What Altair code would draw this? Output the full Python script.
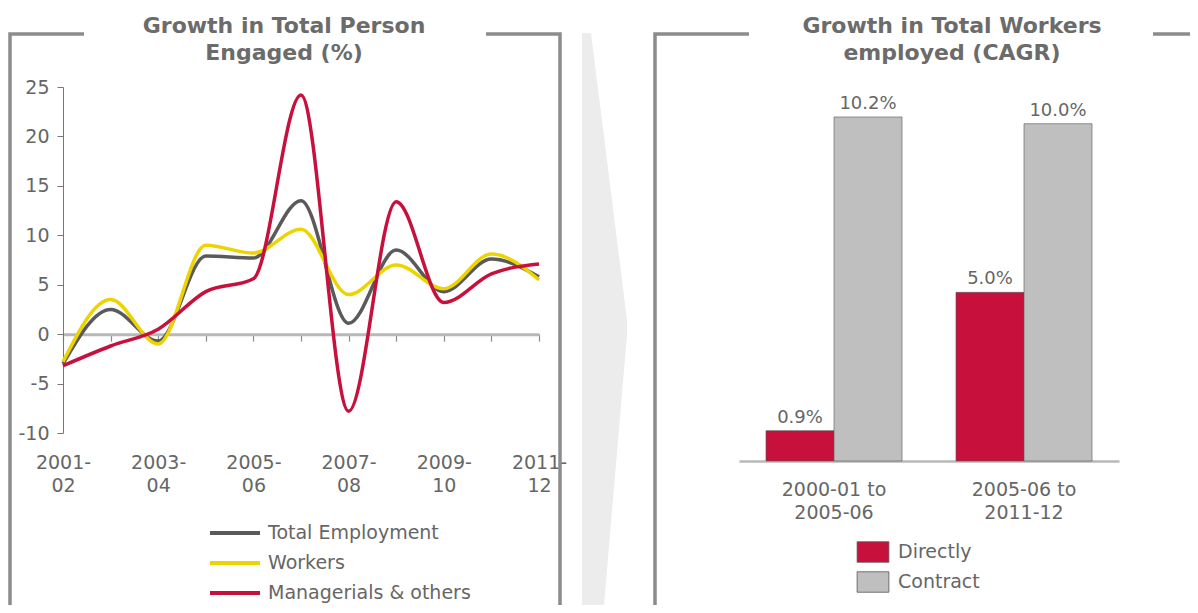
import altair as alt
import pandas as pd

# ---------------- data ----------------
periods = ["2001-02", "2002-03", "2003-04", "2004-05", "2005-06", "2006-07",
           "2007-08", "2008-09", "2009-10", "2010-11", "2011-12"]
shown_period_labels = ["2001-02", "2003-04", "2005-06", "2007-08", "2009-10", "2011-12"]
total_employment = [-3.0, 2.5, -0.7, 7.9, 7.7, 13.5, 1.1, 8.5, 4.3, 7.6, 5.8]
workers = [-2.8, 3.5, -1.0, 9.0, 8.2, 10.6, 4.0, 7.0, 4.6, 8.1, 5.5]
managerials = [-3.2, -1.2, 0.5, 4.3, 5.6, 24.2, -7.8, 13.4, 3.2, 6.1, 7.1]
line_series = ["Total Employment", "Workers", "Managerials & others"]
line_colors = ["#5a5a5a", "#EDD400", "#C8103C"]
y_ticks = [-10, -5, 0, 5, 10, 15, 20, 25]

bar_periods = ["2000-01 to 2005-06", "2005-06 to 2011-12"]
bar_types = ["Directly", "Contract"]
directly = [0.9, 5.0]
contract = [10.2, 10.0]
bar_colors = ["#C8103C", "#BFBFBF"]

left_title = ["Growth in Total Person", "Engaged (%)"]
right_title = ["Growth in Total Workers", "employed (CAGR)"]

# ---------------- tables ----------------
line_rows = []
for name, vals in zip(line_series, [total_employment, workers, managerials]):
    for p, v in zip(periods, vals):
        line_rows.append({"period": p, "series": name, "value": v})
line_df = pd.DataFrame(line_rows)

bar_rows = []
for t, vals in zip(bar_types, [directly, contract]):
    for p, v in zip(bar_periods, vals):
        bar_rows.append({"period": p, "type": t, "value": v, "label": f"{v:.1f}%"})
bar_df = pd.DataFrame(bar_rows)

legend_line_df = pd.DataFrame({"series": line_series})
legend_bar_df = pd.DataFrame({"type": bar_types})
one = pd.DataFrame({"a": [0]})

# ---------------- layout ----------------
W, H = 1182, 597
FONT = "DejaVu Sans"
TXT = "#666666"
line_x_range = [55, 531]
line_y_dom = [-10, 25]
line_y_range = [425, 79]
zero_px = line_y_range[0] + (0 - line_y_dom[0]) / (line_y_dom[1] - line_y_dom[0]) * (line_y_range[1] - line_y_range[0])
bar_base_px = 453
bar_top_px = 82
bar_range = [731, 1111]
bar_pad_inner = 0.284
bar_pad_outer = 0.142

# ---------------- decorations ----------------
frames = alt.Chart(one).mark_point(
    shape=("M2,597L2,26L76,26M478,26L552,26L552,597"
           "M647,597L647,26L741,26M1145,26L1190,26"),
    size=4, filled=False, stroke="#8c8c8c", strokeWidth=3.5, opacity=1,
).encode(x=alt.value(0), y=alt.value(0))

arrow = alt.Chart(one).mark_point(
    shape="M574,25L583,25L619,312L619,327L596,597L574,597Z",
    size=4, filled=True, fill="#ececec", strokeWidth=0, opacity=1,
).encode(x=alt.value(0), y=alt.value(0))


def title_line(text, x, y):
    return alt.Chart(one).mark_text(
        font=FONT, fontSize=22, fontWeight="bold", color="#6b6b6b",
        align="center", baseline="alphabetic",
    ).encode(x=alt.value(x), y=alt.value(y), text=alt.value(text))


titles = [
    title_line(left_title[0], 276, 25), title_line(left_title[1], 276, 52),
    title_line(right_title[0], 944, 25), title_line(right_title[1], 944, 52),
]

# ---------------- line chart ----------------
label_list = ",".join(f"'{s}'" for s in shown_period_labels)
line_color = alt.Color("series:N", scale=alt.Scale(domain=line_series, range=line_colors), legend=None)

lines = alt.Chart(line_df).mark_line(interpolate="monotone", strokeWidth=3.5).encode(
    x=alt.X("period:O", sort=periods,
            scale=alt.Scale(type="point", range=line_x_range, padding=0),
            axis=alt.Axis(orient="bottom", offset=-(H - zero_px), title=None, grid=False,
                          domainColor="#b8b8b8", domainWidth=3,
                          ticks=True, tickColor="#8c8c8c", tickSize=7, tickWidth=1.2,
                          labelAngle=0, labelOverlap=False,
                          labelExpr=f"indexof([{label_list}], datum.value) >= 0 ? [slice(datum.value, 0, 5), slice(datum.value, 5)] : ''",
                          labelPadding=112, labelFont=FONT, labelFontSize=19,
                          labelLineHeight=23, labelColor=TXT)),
    y=alt.Y("value:Q",
            scale=alt.Scale(domain=line_y_dom, range=line_y_range, nice=False, zero=False),
            axis=alt.Axis(orient="left", offset=-line_x_range[0], values=y_ticks, title=None,
                          grid=False, domainColor="#777777", domainWidth=1,
                          tickColor="#777777", tickSize=6, labelPadding=8,
                          labelExpr="toString(datum.value)",
                          labelFont=FONT, labelFontSize=19, labelColor=TXT)),
    color=line_color,
    order=alt.Order("period:O"),
)

leg_y = alt.Y("series:N", sort=line_series,
              scale=alt.Scale(type="point", domain=line_series, range=[525, 585], padding=0),
              axis=None)
legend_lines = alt.Chart(legend_line_df).mark_rule(strokeWidth=4).encode(
    x=alt.value(202), x2=alt.value(252), y=leg_y, color=line_color,
)
legend_line_text = alt.Chart(legend_line_df).mark_text(
    font=FONT, fontSize=19, color=TXT, align="left", baseline="middle",
).encode(x=alt.value(260), y=leg_y, text="series:N")

# ---------------- bar chart ----------------
bar_scale = alt.Scale(range=bar_range, paddingInner=bar_pad_inner, paddingOuter=bar_pad_outer)
bar_x = alt.X("period:N", sort=bar_periods, scale=bar_scale,
              axis=alt.Axis(orient="bottom", offset=-(H - bar_base_px), title=None, grid=False,
                            domainColor="#b8b8b8", domainWidth=2.5, ticks=False,
                            labelAngle=0,
                            labelExpr="[slice(datum.value, 0, 10), slice(datum.value, 11)]",
                            labelPadding=19, labelFont=FONT, labelFontSize=19,
                            labelLineHeight=23, labelColor=TXT))
bar_x_noaxis = alt.X("period:N", sort=bar_periods, scale=bar_scale, axis=None)
bar_xoff = alt.XOffset("type:N", sort=bar_types,
                       scale=alt.Scale(type="band", domain=bar_types, paddingInner=0, paddingOuter=0))
text_xoff = alt.XOffset("type:N", sort=bar_types,
                        scale=alt.Scale(type="point", domain=bar_types, padding=0.5))
bar_y = alt.Y("value:Q", scale=alt.Scale(domain=[0, 11], range=[bar_base_px, bar_top_px], nice=False), axis=None)
bar_color = alt.Color("type:N", scale=alt.Scale(domain=bar_types, range=bar_colors), legend=None)

bars = alt.Chart(bar_df).mark_bar(stroke="#555555", strokeWidth=0.6).encode(
    x=bar_x, xOffset=bar_xoff, y=bar_y, color=bar_color,
)
bar_labels = alt.Chart(bar_df).mark_text(
    font=FONT, fontSize=18, color=TXT, baseline="alphabetic", dy=-8,
).encode(x=bar_x_noaxis, xOffset=text_xoff, y=bar_y, text="label:N")

leg2_y = alt.Y("type:N", sort=bar_types,
               scale=alt.Scale(type="point", domain=bar_types, range=[544, 574], padding=0),
               axis=None)
legend_boxes = alt.Chart(legend_bar_df).mark_point(
    shape="M-1.55,-1L1.55,-1L1.55,1L-1.55,1Z", size=420, filled=True,
    stroke="#555555", strokeWidth=0.8, opacity=1,
).encode(x=alt.value(865), y=leg2_y,
         fill=alt.Fill("type:N", scale=alt.Scale(domain=bar_types, range=bar_colors), legend=None))
legend_bar_text = alt.Chart(legend_bar_df).mark_text(
    font=FONT, fontSize=19, color=TXT, align="left", baseline="middle",
).encode(x=alt.value(890), y=leg2_y, text="type:N")

chart = alt.layer(
    arrow, frames, *titles,
    lines, legend_lines, legend_line_text,
    bars, bar_labels, legend_boxes, legend_bar_text,
).resolve_scale(
    x="independent", y="independent", color="independent", fill="independent",
    xOffset="independent",
).properties(
    width=W, height=H, padding=0, autosize=alt.AutoSizeParams(type="none"),
    background="white",
).configure_view(stroke=None)

chart.save("out.html", embed_options={"renderer": "svg", "actions": False})
